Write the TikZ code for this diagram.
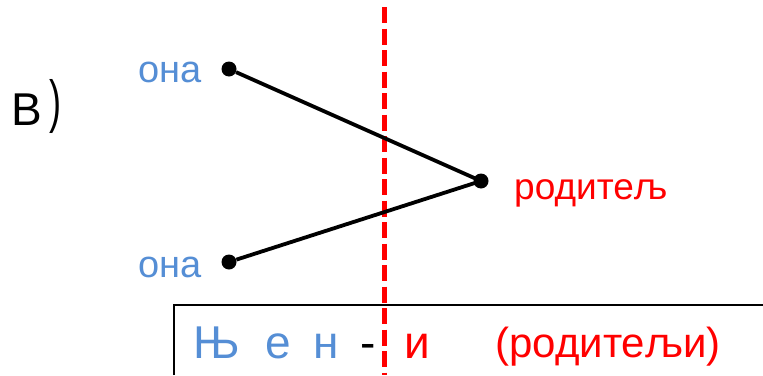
\documentclass[tikz,border=0pt]{standalone}
\usepackage{fontspec}
\setmainfont{Liberation Sans}
\definecolor{cblue}{RGB}{85,142,213}
\definecolor{cred}{RGB}{255,0,0}
\tikzset{
  dot/.style={circle,fill=black,inner sep=0pt,minimum size=15pt},
  bluetxt/.style={text=cblue,font=\fontsize{38}{40}\selectfont,inner sep=0pt,anchor=base},
  redtxt/.style={text=cred,font=\fontsize{37}{40}\selectfont,inner sep=0pt,anchor=base west},
  bigtxt/.style={font=\fontsize{46}{50}\selectfont,inner sep=0pt,anchor=base},
  link/.style={line width=3.8pt},
}
\begin{document}
\begin{tikzpicture}[x=1pt,y=-1pt]
\useasboundingbox (0,0) rectangle (763,375);
% label
\node[font=\fontsize{46}{50}\selectfont,inner sep=0pt,anchor=base west] (lab) at (11,125) {В};
\node[font=\fontsize{40}{46}\selectfont,inner sep=0pt,anchor=center] (par) at (55,106) {\scalebox{0.9}[1.45]{)}};
% texts
\node[bluetxt] (ona1) at (170,82) {она};
\node[bluetxt] (ona2) at (170,277) {она};
\node[redtxt] (rod) at (514,199) {родитељ};
% dots
\node[dot] (d1) at (229,69) {};
\node[dot] (d2) at (229,262) {};
\node[dot] (d3) at (481,181) {};
% box
\coordinate (bl) at (174,375);
\coordinate (tl) at (174,305);
\coordinate (tr) at (763,305);
\draw[line width=1.5pt] (bl) -- (tl) -- (tr);
% red dashed line
\coordinate (rt) at (384,7);
\coordinate (rb) at (384,375);
\draw[cred,line width=5pt,dash pattern=on 16pt off 5.5pt] (rt) -- (rb);
% connectors
\draw[link] (d1) -- (d3.center);
\draw[link] (d2) -- (d3.center);
% bottom word
\node[bigtxt,text=cblue] (w1) at (217,358) {Њ};
\node[bigtxt,text=cblue] (w2) at (278,358) {е};
\node[bigtxt,text=cblue] (w3) at (326,358) {н};
\node[bigtxt,text=black] (w4) at (368,358) {-};
\node[bigtxt,text=cred] (w5) at (417,358) {и};
\node[bigtxt,text=cred,font=\fontsize{42}{46}\selectfont] (w6) at (608,357) {(родитељи)};
\end{tikzpicture}
\end{document}
